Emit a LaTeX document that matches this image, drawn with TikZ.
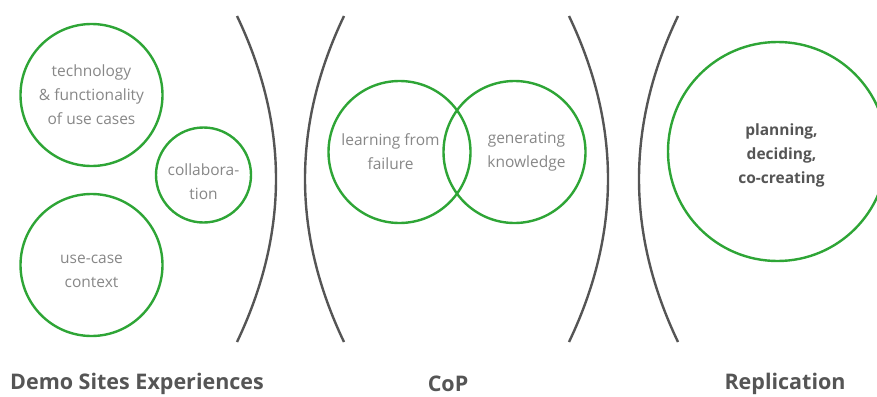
\documentclass[tikz,border=0pt]{standalone}
\usepackage{fontspec}
\setmainfont{Open Sans}
\usepackage{tikz}
\usetikzlibrary{positioning}
\definecolor{ring}{RGB}{46,165,54}
\definecolor{brace}{RGB}{85,85,85}
\definecolor{softtext}{RGB}{135,135,135}

\begin{document}
\begin{tikzpicture}[
  x=1pt, y=-1pt,
  topic/.style={circle, draw=ring, line width=2.4pt, inner sep=0pt},
  note/.style={align=center, text=softtext, font=\fontsize{15.5}{24}\selectfont},
  bow/.style={draw=brace, line width=2.4pt},
  heading/.style={font=\bfseries\fontsize{21.5}{24}\selectfont, text=brace, inner sep=0pt},
]
\useasboundingbox (0,0) rectangle (877,396);
% demo sites
\node[topic, minimum size=142pt] (tech) at (91.5,95) {};
\node[note] (techtxt) at (tech.center) {technology\\ \& functionality\\ of use cases};
\node[topic, minimum size=95pt] (collab) at (203.5,175) {};
\node[note] (collabtxt) at ([yshift=-7pt]collab.center) {collabora-\\ tion};
\node[topic, minimum size=142pt] (context) at (91.5,265) {};
\node[note] (contexttxt) at ([yshift=-6pt]context.center) {use-case\\ context};
\draw[bow] (237,16) .. controls (289,125) and (289,233) .. (237,342);
% community of practice
\draw[bow] (344,16) .. controls (292,125) and (292,233) .. (344,342);
\node[topic, minimum size=142pt] (failure) at (399.5,152) {};
\node[note] (failuretxt) at ([xshift=-9pt]failure.center) {learning from\\ failure};
\node[topic, minimum size=142pt] (knowledge) at (514.5,152) {};
\node[note] (knowledgetxt) at ([xshift=12pt]knowledge.center) {generating\\ knowledge};
\draw[bow] (569,16) .. controls (621,125) and (621,233) .. (569,342);
% replication
\draw[bow] (678,16) .. controls (626,125) and (626,233) .. (678,342);
\node[topic, minimum size=219pt] (plan) at (777.5,151.5) {};
\node[note, text=brace, font=\bfseries\fontsize{15.5}{24}\selectfont] (plantxt)
  at ([xshift=4pt, yshift=-4pt]plan.center) {planning,\\ deciding,\\ co-creating};
% headings
\node[heading] (demo) at (137,384) {Demo Sites Experiences};
\node[heading] (cop) at (448,384) {CoP};
\node[heading] (repl) at (785,384) {Replication};
\end{tikzpicture}
\end{document}
